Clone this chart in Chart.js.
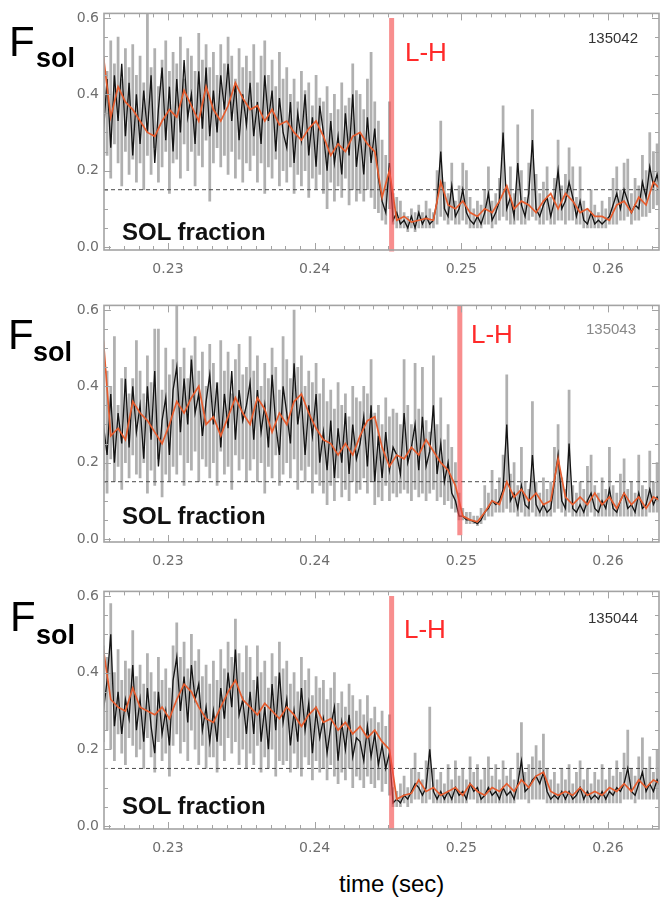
<!DOCTYPE html>
<html>
<head>
<meta charset="utf-8">
<script src="https://cdn.jsdelivr.net/npm/chart.js@4/dist/chart.umd.min.js"></script>
<style>
  html, body { margin: 0; padding: 0; background: #fff; }
  body { width: 662px; height: 905px; position: relative; overflow: hidden;
         font-family: "Liberation Sans", Arial, Helvetica, sans-serif; color: #000; }
  .panel { position: absolute; left: 0; width: 662px; }
  .panel canvas { display: block; }
  .lbl { position: absolute; white-space: nowrap; line-height: 1; }
  .fsol { font-size: 42px; }
  .sub { font-size: 27px; font-weight: bold; }
  .sol { font-size: 24px; font-weight: bold; color: #111; }
  .lh { font-size: 26px; color: #ff2a2a; }
  .shot { font-size: 15px; color: #333; }
</style>
</head>
<body>

<div class="panel" style="top:0px"><canvas id="c1" width="662" height="290"></canvas></div>
<div class="panel" style="top:292px"><canvas id="c2" width="662" height="290"></canvas></div>
<div class="panel" style="top:578px"><canvas id="c3" width="662" height="291"></canvas></div>

<!-- panel 1 labels -->
<div class="lbl fsol" style="left:9px;top:21px">F</div>
<div class="lbl sub" style="left:36px;top:45px">sol</div>
<div class="lbl sol" style="left:122px;top:220px">SOL fraction</div>
<div class="lbl lh" style="left:405px;top:39px">L-H</div>
<div class="lbl shot" style="left:588px;top:30px">135042</div>

<!-- panel 2 labels -->
<div class="lbl fsol" style="left:8px;top:314px">F</div>
<div class="lbl sub" style="left:33px;top:339px">sol</div>
<div class="lbl sol" style="left:122px;top:504px">SOL fraction</div>
<div class="lbl lh" style="left:471px;top:321px">L-H</div>
<div class="lbl shot" style="left:586px;top:321px;color:#888">135043</div>

<!-- panel 3 labels -->
<div class="lbl fsol" style="left:10px;top:596px">F</div>
<div class="lbl sub" style="left:36px;top:622px">sol</div>
<div class="lbl sol" style="left:122px;top:794px">SOL fraction</div>
<div class="lbl lh" style="left:404px;top:616px">L-H</div>
<div class="lbl shot" style="left:588px;top:610px">135044</div>

<div class="lbl" style="left:339px;top:872px;font-size:24px">time (sec)</div>

<script>
// ---- sampling grid of the traces (seconds) ----
const SAMPLE_T0 = 0.2256;
const SAMPLE_DT = 0.00025;   // raw trace step
const SMOOTH_DT = 0.0005;    // smoothed trace step

// ---- axes ----
const X_MIN = 0.22564, X_MAX = 0.26348;
const Y_MIN = -0.008, Y_MAX = 0.612;
const X_TICKS = [0.23, 0.24, 0.25, 0.26];
const Y_TICKS = [0.0, 0.2, 0.4, 0.6];
const SOL_THRESHOLD = 0.15;

// ---- shot 135042 ----
const s42Hi = [.50,.46,.54,.48,.55,.44,.52,.47,.53,.45,
  .50,.43,.61,.47,.52,.42,.49,.54,.46,.51,
  .48,.55,.44,.52,.50,.46,.56,.49,.53,.47,
  .51,.45,.53,.48,.55,.50,.44,.52,.47,.50,
  .46,.53,.43,.50,.54,.45,.49,.42,.51,.44,
  .47,.40,.44,.38,.46,.41,.43,.37,.45,.39,
  .38,.42,.35,.40,.36,.43,.37,.39,.48,.41,
  .40,.36,.44,.51,.38,.33,.28,.24,.38,.14,
  .13,.12,.09,.08,.10,.09,.11,.09,.12,.10,
  .09,.20,.33,.17,.14,.22,.12,.16,.22,.20,
  .13,.10,.12,.11,.15,.21,.12,.14,.18,.37,
  .16,.21,.14,.32,.20,.13,.22,.36,.19,.14,
  .17,.21,.13,.18,.28,.16,.19,.26,.21,.13,
  .21,.12,.10,.15,.11,.09,.12,.10,.13,.18,
  .21,.15,.22,.23,.14,.18,.16,.24,.20,.30,
  .25,.27,.20];
const s42Lo = [.20,.24,.18,.27,.22,.16,.25,.19,.23,.17,
  .22,.15,.24,.19,.26,.17,.21,.25,.14,.22,
  .23,.18,.27,.20,.25,.16,.24,.21,.28,.12,
  .22,.26,.21,.24,.19,.25,.18,.23,.17,.22,
  .20,.24,.17,.22,.14,.21,.18,.23,.16,.20,
  .17,.21,.14,.19,.16,.20,.13,.18,.15,.19,
  .14,.10,.17,.12,.16,.13,.18,.11,.15,.12,
  .14,.12,.15,.13,.10,.09,.07,.06,.10,.06,
  .05,.05,.05,.04,.05,.04,.05,.05,.05,.05,
  .05,.06,.08,.07,.06,.07,.06,.06,.07,.06,
  .05,.05,.05,.05,.06,.06,.05,.06,.07,.08,
  .07,.06,.06,.07,.06,.06,.07,.08,.07,.06,
  .06,.07,.06,.06,.07,.07,.06,.07,.07,.06,
  .06,.05,.05,.05,.05,.05,.05,.05,.06,.06,
  .06,.07,.07,.08,.06,.07,.07,.08,.08,.09,
  .10,.11,.10];
const s42Raw = [.30,.44,.26,.45,.33,.48,.29,.43,.24,.40,
  .27,.41,.30,.45,.22,.36,.47,.28,.42,.25,
  .44,.30,.49,.34,.40,.27,.46,.31,.47,.29,
  .41,.30,.45,.36,.48,.33,.43,.28,.40,.32,
  .43,.29,.38,.27,.45,.33,.41,.25,.39,.30,
  .26,.38,.22,.35,.28,.40,.24,.34,.21,.37,
  .30,.20,.33,.22,.29,.19,.35,.24,.40,.21,
  .30,.19,.34,.22,.31,.18,.12,.09,.22,.07,
  .09,.06,.07,.05,.08,.05,.09,.06,.08,.06,
  .07,.12,.25,.10,.08,.16,.08,.10,.15,.09,
  .07,.06,.08,.06,.09,.14,.07,.09,.12,.30,
  .10,.13,.08,.22,.11,.08,.14,.28,.10,.08,
  .11,.13,.08,.12,.20,.10,.12,.17,.13,.08,
  .12,.07,.06,.09,.06,.07,.06,.07,.08,.11,
  .14,.10,.15,.12,.09,.11,.10,.17,.13,.21,
  .16,.19,.14];
const s42Smooth = [.50,.34,.42,.38,.36,.33,.30,.29,.33,.36,
  .34,.41,.37,.33,.42,.36,.33,.37,.43,.39,
  .36,.37,.33,.36,.32,.33,.30,.28,.31,.33,
  .29,.24,.27,.25,.29,.30,.27,.25,.13,.20,
  .07,.08,.065,.07,.075,.07,.17,.11,.10,.12,
  .09,.08,.10,.09,.12,.16,.10,.12,.11,.09,
  .12,.14,.10,.14,.12,.09,.10,.08,.08,.07,
  .11,.12,.09,.13,.11,.17,.15];
const s42LH = 0.24525;

// ---- shot 135043 ----
const s43Hi = [.50,.44,.40,.53,.35,.42,.45,.38,.42,.52,
  .44,.38,.48,.41,.55,.55,.39,.50,.43,.47,
  .62,.45,.50,.42,.48,.53,.44,.49,.40,.51,
  .46,.41,.52,.44,.49,.38,.47,.51,.43,.45,
  .53,.44,.48,.40,.46,.42,.50,.45,.39,.53,
  .47,.42,.60,.45,.48,.40,.44,.41,.46,.38,
  .42,.36,.39,.34,.41,.35,.38,.32,.40,.37,
  .36,.40,.38,.47,.33,.35,.30,.37,.32,.34,
  .33,.30,.47,.35,.30,.46,.34,.45,.31,.28,
  .48,.30,.37,.26,.30,.24,.20,.12,.08,.07,
  .07,.06,.06,.08,.14,.12,.18,.13,.16,.22,
  .43,.17,.20,.14,.24,.15,.13,.36,.15,.12,
  .16,.13,.15,.24,.30,.16,.13,.39,.14,.12,
  .15,.13,.19,.22,.14,.12,.16,.13,.24,.14,
  .12,.17,.21,.13,.15,.12,.22,.14,.13,.23,
  .15,.20,.14];
const s43Lo = [.18,.12,.21,.15,.19,.13,.20,.16,.22,.17,
  .16,.20,.12,.18,.14,.21,.11,.17,.15,.19,
  .17,.22,.14,.20,.18,.23,.15,.21,.19,.16,
  .20,.14,.23,.17,.19,.13,.22,.18,.21,.15,
  .18,.21,.15,.20,.12,.19,.16,.22,.14,.17,
  .20,.16,.21,.13,.18,.15,.19,.12,.17,.14,
  .12,.09,.14,.10,.16,.11,.13,.10,.15,.12,
  .13,.16,.12,.15,.09,.11,.10,.14,.10,.12,
  .11,.12,.13,.12,.10,.13,.11,.12,.10,.12,
  .13,.10,.11,.09,.10,.08,.07,.05,.05,.04,
  .04,.04,.035,.04,.05,.06,.06,.07,.07,.07,
  .08,.07,.07,.06,.07,.06,.06,.07,.06,.06,
  .06,.06,.06,.07,.08,.07,.06,.07,.06,.06,
  .06,.06,.06,.07,.06,.06,.06,.06,.06,.06,
  .06,.06,.06,.06,.06,.06,.06,.06,.06,.07,
  .07,.07,.07];
const s43Raw = [.30,.22,.38,.20,.33,.25,.42,.24,.40,.28,
  .35,.21,.40,.26,.44,.19,.31,.37,.22,.39,
  .45,.28,.42,.30,.47,.33,.38,.27,.36,.43,
  .30,.41,.24,.38,.29,.44,.26,.39,.31,.35,
  .41,.26,.39,.28,.35,.24,.43,.30,.22,.40,
  .33,.25,.46,.30,.37,.22,.35,.27,.38,.20,
  .28,.18,.31,.16,.29,.20,.33,.17,.30,.21,
  .25,.32,.19,.35,.15,.27,.16,.28,.18,.24,
  .22,.17,.33,.20,.24,.30,.18,.32,.19,.23,
  .35,.17,.25,.15,.20,.12,.10,.06,.06,.05,
  .05,.045,.04,.05,.07,.08,.10,.09,.10,.13,
  .30,.10,.12,.08,.14,.09,.08,.22,.09,.07,
  .09,.07,.08,.15,.22,.10,.08,.25,.08,.07,
  .09,.07,.10,.12,.08,.07,.10,.08,.13,.08,
  .07,.10,.12,.08,.09,.07,.12,.08,.09,.13,
  .09,.11,.09];
const s43Smooth = [.52,.27,.29,.26,.36,.33,.31,.28,.25,.30,
  .36,.33,.37,.40,.30,.32,.27,.32,.37,.33,
  .30,.37,.34,.28,.33,.30,.36,.38,.33,.29,
  .26,.25,.22,.25,.22,.27,.31,.32,.24,.19,
  .22,.21,.24,.22,.26,.23,.20,.18,.14,.06,
  .05,.045,.07,.10,.09,.15,.11,.13,.10,.12,
  .09,.10,.21,.11,.09,.11,.09,.12,.09,.11,
  .08,.12,.09,.11,.08,.11,.10];
const s43LH = 0.2499;

// ---- shot 135044 ----
const s44Hi = [.47,.44,.58,.40,.46,.38,.43,.41,.51,.39,
  .42,.37,.45,.40,.35,.44,.38,.41,.36,.47,
  .53,.44,.48,.41,.50,.43,.46,.39,.42,.37,
  .43,.38,.46,.41,.48,.44,.54,.45,.40,.47,
  .44,.38,.47,.40,.43,.36,.45,.39,.48,.41,
  .43,.37,.40,.35,.44,.38,.41,.34,.39,.36,
  .38,.33,.36,.40,.32,.35,.31,.37,.34,.30,
  .33,.29,.34,.28,.31,.27,.30,.26,.29,.10,
  .09,.11,.13,.10,.15,.19,.14,.12,.17,.31,
  .15,.12,.14,.11,.16,.12,.17,.13,.15,.12,
  .18,.14,.16,.12,.15,.18,.13,.16,.12,.17,
  .13,.15,.12,.19,.27,.14,.16,.18,.21,.17,
  .24,.15,.12,.14,.11,.15,.12,.16,.11,.14,
  .17,.12,.15,.11,.14,.12,.16,.12,.15,.13,
  .17,.14,.19,.25,.15,.13,.18,.23,.15,.18,
  .14,.20,.16];
const s44Lo = [.22,.25,.20,.17,.24,.19,.16,.23,.21,.18,
  .20,.15,.23,.18,.14,.22,.17,.19,.13,.21,
  .24,.19,.22,.17,.25,.20,.16,.21,.15,.18,
  .18,.14,.21,.17,.23,.19,.22,.16,.20,.15,
  .19,.16,.21,.14,.18,.15,.20,.13,.17,.16,
  .17,.14,.19,.15,.13,.18,.16,.12,.17,.14,
  .15,.12,.16,.13,.11,.14,.12,.15,.10,.13,
  .12,.10,.13,.11,.10,.12,.09,.11,.08,.05,
  .05,.05,.06,.05,.06,.07,.07,.06,.06,.07,
  .06,.06,.06,.06,.06,.06,.06,.06,.06,.06,
  .07,.07,.06,.06,.06,.06,.06,.06,.06,.06,
  .06,.06,.06,.07,.07,.07,.06,.07,.07,.07,
  .07,.06,.06,.06,.06,.06,.06,.06,.06,.06,
  .06,.06,.06,.06,.06,.06,.06,.06,.06,.06,
  .06,.06,.07,.07,.07,.06,.07,.07,.07,.07,
  .07,.07,.07];
const s44Raw = [.30,.38,.50,.26,.35,.24,.33,.28,.42,.25,
  .33,.22,.36,.26,.19,.35,.24,.30,.21,.38,
  .44,.30,.39,.27,.42,.33,.37,.25,.31,.22,
  .30,.22,.36,.28,.40,.31,.46,.29,.33,.24,
  .35,.24,.39,.22,.31,.20,.37,.25,.40,.27,
  .33,.21,.30,.22,.36,.25,.32,.19,.30,.23,
  .28,.19,.26,.31,.17,.27,.20,.29,.18,.23,
  .22,.17,.26,.18,.24,.16,.21,.15,.19,.06,
  .07,.06,.08,.07,.09,.11,.10,.08,.10,.20,
  .09,.07,.09,.07,.09,.07,.10,.08,.09,.07,
  .11,.09,.10,.07,.08,.10,.08,.09,.07,.10,
  .08,.09,.07,.11,.17,.09,.10,.12,.13,.11,
  .14,.09,.07,.08,.07,.09,.07,.09,.07,.08,
  .10,.07,.09,.07,.08,.07,.09,.07,.09,.08,
  .10,.09,.11,.15,.09,.08,.11,.14,.09,.11,
  .09,.12,.10];
const s44Smooth = [.46,.33,.31,.30,.36,.31,.30,.29,.31,.28,
  .33,.37,.35,.31,.28,.27,.31,.35,.38,.33,
  .31,.29,.32,.30,.28,.31,.29,.26,.29,.31,
  .27,.28,.25,.27,.24,.26,.23,.25,.22,.20,
  .07,.08,.085,.12,.09,.10,.08,.09,.10,.08,
  .11,.09,.08,.10,.09,.11,.09,.12,.10,.13,
  .14,.09,.08,.09,.08,.10,.08,.09,.08,.10,
  .09,.11,.09,.12,.10,.12,.11];
const s44LH = 0.24525;

// ---- styling ----
const AXIS_COLOR = '#a3a3a3';
const TICK_LABEL_COLOR = '#6e6e6e';
const RANGE_COLOR = '#b0b0b0';
const RAW_COLOR = '#141414';
const SMOOTH_COLOR = '#e65c2e';
const LH_COLOR = 'rgba(244,72,72,0.62)';

// inward tick marks on all four sides + the plot frame
const framePlugin = {
  id: 'idlFrame',
  afterDatasetsDraw(chart) {
    const { ctx, chartArea: a, scales: { x, y } } = chart;
    ctx.save();
    ctx.strokeStyle = AXIS_COLOR;
    ctx.lineWidth = 1;
    ctx.beginPath();
    for (let k = 226; k <= 263; k++) {
      const v = k / 1000;
      const px = Math.round(x.getPixelForValue(v)) + 0.5;
      const len = (k % 10 === 0) ? 7 : 4;
      ctx.moveTo(px, a.bottom); ctx.lineTo(px, a.bottom - len);
      ctx.moveTo(px, a.top); ctx.lineTo(px, a.top + len);
    }
    for (let k = 0; k <= 12; k++) {
      const v = k * 0.05;
      const py = Math.round(y.getPixelForValue(v)) + 0.5;
      const len = (k % 4 === 0) ? 7 : 4;
      ctx.moveTo(a.left, py); ctx.lineTo(a.left + len, py);
      ctx.moveTo(a.right, py); ctx.lineTo(a.right - len, py);
    }
    ctx.stroke();
    ctx.lineWidth = 1.6;
    ctx.strokeRect(a.left, a.top, a.right - a.left, a.bottom - a.top);
    ctx.restore();
  }
};

function makePanel(id, hi, lo, raw, smooth, lhTime, lhTop, lhBottom) {
  const range = hi.map((h, i) => ({ x: SAMPLE_T0 + i * SAMPLE_DT, y: [lo[i], h] }));
  const rawPts = raw.map((v, i) => ({ x: SAMPLE_T0 + i * SAMPLE_DT, y: v }));
  const smoothPts = smooth.map((v, j) => ({ x: SAMPLE_T0 + j * SMOOTH_DT, y: v }));

  new Chart(document.getElementById(id), {
    type: 'line',
    data: {
      datasets: [
        { type: 'bar', data: range, backgroundColor: RANGE_COLOR, borderWidth: 0,
          barThickness: 2.1, grouped: false, order: 5 },
        { data: [{ x: X_MIN, y: SOL_THRESHOLD }, { x: X_MAX, y: SOL_THRESHOLD }],
          borderColor: '#4a4a4a', borderWidth: 1, borderDash: [4, 3], pointRadius: 0, order: 4 },
        { data: rawPts, borderColor: RAW_COLOR, borderWidth: 1.35, pointRadius: 0,
          tension: 0, order: 3 },
        { data: smoothPts, borderColor: SMOOTH_COLOR, borderWidth: 1.7, pointRadius: 0,
          tension: 0, order: 2 },
        { data: [{ x: lhTime, y: lhTop }, { x: lhTime, y: lhBottom }],
          borderColor: LH_COLOR, borderWidth: 5, pointRadius: 0, clip: false, order: 1 }
      ]
    },
    options: {
      responsive: false,
      devicePixelRatio: 1,
      animation: false,
      events: [],
      layout: { padding: { top: 10, right: 3, left: 0, bottom: 0 } },
      plugins: { legend: { display: false }, tooltip: { enabled: false } },
      scales: {
        x: {
          type: 'linear', min: X_MIN, max: X_MAX, offset: false,
          grid: { display: false, drawTicks: false, offset: false },
          border: { display: false },
          afterBuildTicks: s => { s.ticks = X_TICKS.map(v => ({ value: v })); },
          afterFit: s => { s.height = 40; },
          ticks: {
            padding: 11, color: TICK_LABEL_COLOR, maxRotation: 0, autoSkip: false,
            font: { family: 'DejaVu Sans', size: 14 },
            callback: v => v.toFixed(2)
          }
        },
        y: {
          type: 'linear', min: Y_MIN, max: Y_MAX,
          grid: { display: false, drawTicks: false },
          border: { display: false },
          afterBuildTicks: s => { s.ticks = Y_TICKS.map(v => ({ value: v })); },
          afterFit: s => { s.width = 104; },
          ticks: {
            padding: 5, color: TICK_LABEL_COLOR, autoSkip: false,
            font: { family: 'DejaVu Sans', size: 14 },
            callback: v => v.toFixed(1)
          }
        }
      }
    },
    plugins: [framePlugin]
  });
}

makePanel('c1', s42Hi, s42Lo, s42Raw, s42Smooth, s42LH, 0.6, -0.012);
makePanel('c2', s43Hi, s43Lo, s43Raw, s43Smooth, s43LH, 0.612, 0.01);
makePanel('c3', s44Hi, s44Lo, s44Raw, s44Smooth, s44LH, 0.6, -0.01);
</script>
</body>
</html>
